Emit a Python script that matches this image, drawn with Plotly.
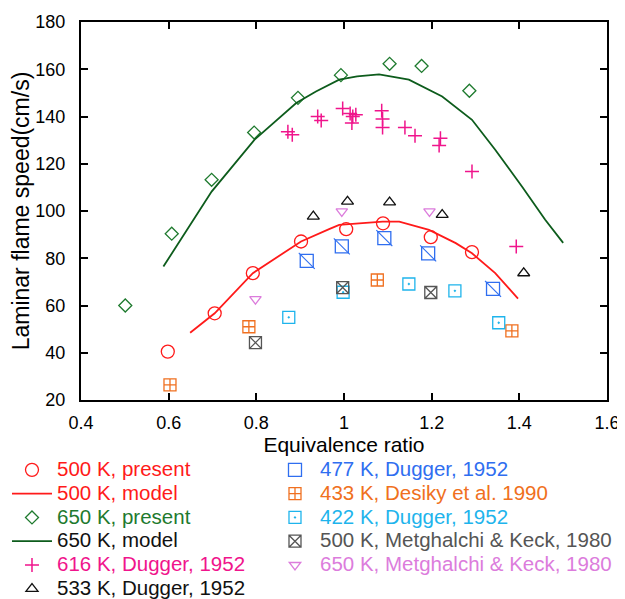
import plotly.graph_objects as go

# ---- data ----
p500_x = [0.598, 0.705, 0.792, 0.902, 1.005, 1.089, 1.198, 1.292]
p500_y = [40.5, 56.7, 73.7, 87.1, 92.3, 94.8, 88.9, 82.6]

m500_x = [0.649, 0.705, 0.792, 0.902, 0.966, 0.989, 1.088, 1.126, 1.194, 1.255, 1.292, 1.345, 1.397]
m500_y = [48.5, 56.7, 73.7, 87.1, 92.3, 94.1, 95.5, 95.5, 92.0, 86.4, 82.1, 73.7, 62.9]

p650_x = [0.501, 0.607, 0.698, 0.795, 0.895, 0.993, 1.104, 1.177, 1.286]
p650_y = [60.0, 90.4, 113.2, 133.2, 147.9, 157.5, 162.3, 161.4, 150.9]

m650_x = [0.588, 0.656, 0.698, 0.796, 0.891, 0.936, 0.989, 1.030, 1.080, 1.148, 1.224,
          1.292, 1.345, 1.406, 1.459, 1.500]
m650_y = [76.5, 96.3, 108.2, 130.2, 145.7, 150.6, 155.6, 157.0, 157.8, 155.6, 148.5,
          138.6, 125.9, 110.4, 96.3, 86.5]

d616_x = [0.872, 0.882, 0.940, 0.948, 0.997, 1.014, 1.020, 1.018, 1.027, 1.086, 1.088,
          1.088, 1.139, 1.162, 1.220, 1.217, 1.292, 1.393]
d616_y = [133.5, 132.3, 140.0, 138.3, 143.4, 141.3, 140.0, 137.2, 140.7, 142.4, 138.9,
          135.3, 135.3, 131.9, 130.8, 127.7, 116.7, 85.0]

d533_x = [0.930, 1.008, 1.104, 1.224, 1.410]
d533_y = [97.7, 104.0, 103.7, 98.4, 73.7]

d477_x = [0.915, 0.995, 1.092, 1.192, 1.340]
d477_y = [78.9, 85.0, 88.5, 82.1, 67.0]

d433_x = [0.603, 0.783, 1.076, 1.383]
d433_y = [26.4, 51.0, 70.8, 49.3]

d422_x = [0.874, 0.998, 1.148, 1.253, 1.353]
d422_y = [55.0, 65.6, 69.1, 66.2, 52.7]

mk500_x = [0.798, 0.997, 1.198]
mk500_y = [44.3, 67.6, 65.5]

mk650_x = [0.798, 0.995, 1.195]
mk650_y = [62.7, 99.8, 99.8]

x_ticks = [0.4, 0.6, 0.8, 1.0, 1.2, 1.4, 1.6]
x_tick_labels = ["0.4", "0.6", "0.8", "1", "1.2", "1.4", "1.6"]
y_ticks = [20, 40, 60, 80, 100, 120, 140, 160, 180]

RED = "#ff1a1a"
GREEN_M = "#1e7a2e"
GREEN_L = "#0d5c1c"
MAGENTA = "#f0148c"
BLACK = "#111111"
BLUE = "#2f6ef0"
ORANGE = "#f07020"
CYAN = "#1eb4ec"
GRAY = "#555555"
ORCHID = "#dc7cdc"

FONT = "Liberation Sans, Arial, sans-serif"
LSIZE = 20.5


def lab(text, color):
    return f'<span style="font-size:{LSIZE}px;color:{color}">{text}</span>'


fig = go.Figure()


def add_markers(x, y, name, symbol, color, size, legend, width=1.3, showlegend=True):
    fig.add_trace(go.Scatter(
        x=x, y=y, mode="markers", name=name, legend=legend, showlegend=showlegend,
        marker=dict(symbol=symbol, size=size, color=color,
                    line=dict(color=color, width=width)),
    ))


# left legend column (legend), right legend column (legend2)
add_markers(p500_x, p500_y, lab("500 K, present", RED), "circle-open", RED, 13, "legend")
fig.add_trace(go.Scatter(x=m500_x, y=m500_y, mode="lines", name=lab("500 K, model", RED),
                         legend="legend", line=dict(color=RED, width=1.8)))
add_markers(p650_x, p650_y, lab("650 K, present", GREEN_M), "diamond-open", GREEN_M, 10, "legend")
fig.add_trace(go.Scatter(x=m650_x, y=m650_y, mode="lines", name=lab("650 K, model", BLACK),
                         legend="legend", line=dict(color=GREEN_L, width=1.8)))
add_markers(d616_x, d616_y, lab("616 K, Dugger, 1952", MAGENTA), "cross-thin-open", MAGENTA, 10, "legend", width=1.5)
add_markers(d533_x, d533_y, lab("533 K, Dugger, 1952", BLACK), "triangle-up-open", BLACK, 10.5, "legend")

add_markers(d477_x, d477_y, lab("477 K, Dugger, 1952", BLUE), "square-open", BLUE, 13, "legend2")
add_markers(d477_x, d477_y, "477 diag", "line-nw-open", BLUE, 16, "legend2", width=1.1, showlegend=False)
add_markers(d433_x, d433_y, lab("433 K, Desiky et al. 1990", ORANGE), "square-cross-open", ORANGE, 12, "legend2")
add_markers(d422_x, d422_y, lab("422 K, Dugger, 1952", CYAN), "square-open-dot", CYAN, 12, "legend2")
add_markers(mk500_x, mk500_y, lab("500 K, Metghalchi &amp; Keck, 1980", GRAY), "square-x-open", GRAY, 12, "legend2")
add_markers(mk650_x, mk650_y, lab("650 K, Metghalchi &amp; Keck, 1980", ORCHID), "triangle-down-open", ORCHID, 10, "legend2")

axis_common = dict(
    showline=True, linecolor="black", linewidth=2, mirror="ticks",
    ticks="inside", ticklen=7, tickwidth=1.5, tickcolor="black",
    showgrid=False, zeroline=False,
    tickfont=dict(family=FONT, size=18, color="black"),
)

fig.update_xaxes(range=[0.4, 1.6], tickvals=x_ticks, ticktext=x_tick_labels,
                 title=dict(text="Equivalence ratio", font=dict(family=FONT, size=21, color="black"),
                            standoff=6),
                 ticklabelstandoff=5, **axis_common)
fig.update_yaxes(range=[20, 180], tickvals=y_ticks,
                 title=dict(text="Laminar flame speed(cm/s)", font=dict(family=FONT, size=23, color="black"),
                            standoff=0),
                 ticklabelstandoff=10, **axis_common)

legend_common = dict(
    orientation="v", xref="paper", yref="paper", xanchor="left", yanchor="top",
    font=dict(family=FONT, size=16), itemwidth=40,
    bgcolor="rgba(0,0,0,0)", borderwidth=0, traceorder="normal",
)

# page has an 8px body margin: figure is 617x591 so it ends at the window edge
fig.update_layout(
    width=617, height=591,
    margin=dict(l=73, r=18, t=14, b=199, autoexpand=False),
    paper_bgcolor="white", plot_bgcolor="white",
    font=dict(family=FONT, color="black"),
    legend=dict(x=-0.1407, y=-0.140, **legend_common),
    legend2=dict(x=0.3593, y=-0.140, **legend_common),
)

fig.write_html("out.html")
